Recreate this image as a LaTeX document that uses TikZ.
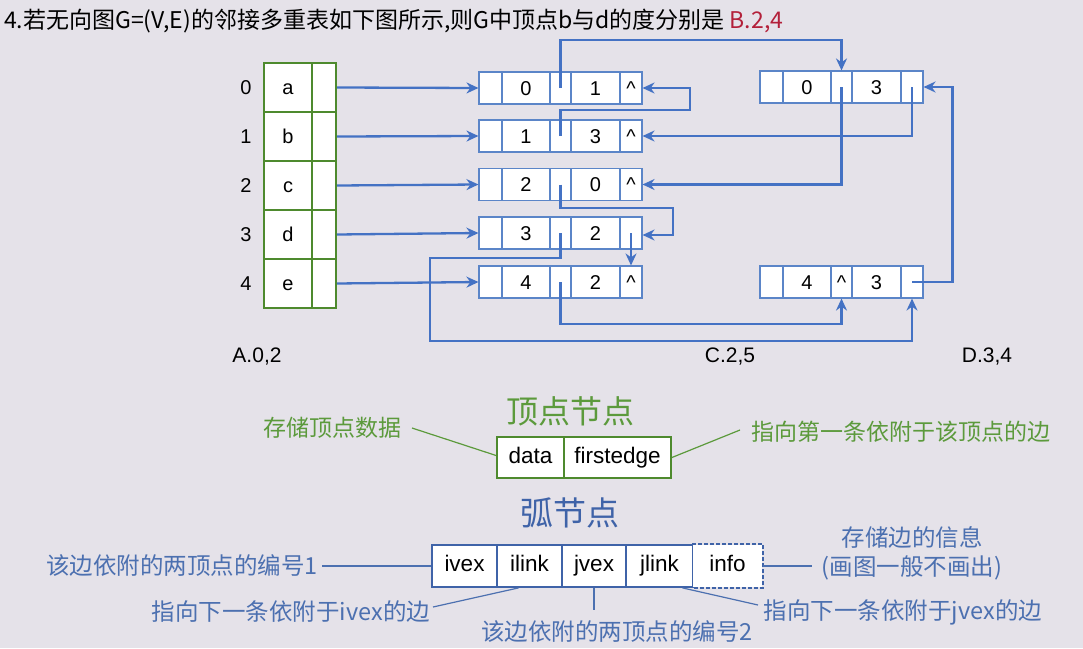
\documentclass[tikz,border=0pt]{standalone}
\usepackage{fontspec}
\setmainfont{Liberation Sans}
\newfontfamily\cjk{Noto Sans CJK SC}
\usetikzlibrary{arrows.meta}
\definecolor{bg}{HTML}{E5E2E9}
\definecolor{connblue}{HTML}{4472C4}
\definecolor{cellblue}{HTML}{5B85C8}
\definecolor{vgreen}{HTML}{4E8A2E}
\definecolor{tgreen}{HTML}{5C9A3C}
\definecolor{arcblue}{HTML}{3F63A8}
\definecolor{lblue}{HTML}{4C70B0}
\definecolor{titlered}{HTML}{B3203A}
\tikzset{
  cellbox/.style={draw=cellblue, fill=white, line width=1.1pt, inner sep=0pt, minimum height=32pt, font=\fontsize{20}{20}\selectfont, text height=14.3pt, text depth=0pt},
  vcellbox/.style={draw=vgreen, fill=white, line width=2pt, inner sep=0pt, minimum height=49pt, font=\fontsize{20}{20}\selectfont, text height=14.3pt, text depth=0pt},
  conn/.style={draw=connblue, line width=2.3pt, -{Stealth[length=12pt,width=11pt]}},
  idx/.style={font=\fontsize{20}{20}\selectfont},
  ans/.style={font=\fontsize{21}{21}\selectfont},
  gtext/.style={text=tgreen, font=\cjk\fontsize{23}{23}\selectfont},
  btext/.style={text=lblue, font=\cjk\fontsize{23.5}{23.5}\selectfont},
  gline/.style={draw=tgreen, line width=1.2pt},
  bline/.style={draw=lblue, line width=1.2pt},
  gcell/.style={draw=vgreen, fill=white, line width=1.8pt, inner sep=0pt, minimum height=41pt, font=\fontsize{22.5}{22.5}\selectfont, text height=16pt, text depth=4.5pt},
  acell/.style={draw=arcblue, fill=white, line width=1.8pt, inner sep=0pt, minimum height=42pt, font=\fontsize{22.5}{22.5}\selectfont, text height=16pt, text depth=4.5pt},
}
% edge node: #1 name, #2 left x, #3 centre y, #4..#7 texts of cells 2..5
\newcommand\EdgeNode[7]{%
  \node[cellbox, minimum width=23pt] (#1-1) at ({#2+11.5},#3) {};
  \node[cellbox, minimum width=48pt] (#1-2) at ({#2+47},#3) {#4};
  \node[cellbox, minimum width=21pt] (#1-3) at ({#2+81.5},#3) {#5};
  \node[cellbox, minimum width=49pt] (#1-4) at ({#2+116.5},#3) {#6};
  \node[cellbox, minimum width=22pt] (#1-5) at ({#2+152},#3) {#7};
}
\newcommand\VRow[4]{% #1 name, #2 centre y, #3 letter, #4 index
  \node[vcellbox, minimum width=48pt] (#1-1) at (288,#2) {#3};
  \node[vcellbox, minimum width=24pt] (#1-2) at (324,#2) {};
  \node[idx] (#1-i) at (246,#2) {#4};
}
\begin{document}
\begin{tikzpicture}[x=1pt,y=-1pt]
\fill[bg] (0,0) rectangle (1083,648);
\useasboundingbox (0,0) rectangle (1083,648);

% title
\node[anchor=west, inner sep=0pt, font=\cjk\fontsize{23}{23}\selectfont] (title) at (4,21)
  {4.若无向图G=(V,E)的邻接多重表如下图所示,则G中顶点b与d的度分别是 \textcolor{titlered}{B.2,4}};

% vertex table
\VRow{v0}{87.5}{a}{0}
\VRow{v1}{136.5}{b}{1}
\VRow{v2}{185.5}{c}{2}
\VRow{v3}{234.5}{d}{3}
\VRow{v4}{283.5}{e}{4}

% edge nodes
\EdgeNode{E0}{479}{88}{0}{}{1}{\textasciicircum}
\EdgeNode{E1}{479}{136}{1}{}{3}{\textasciicircum}
\EdgeNode{E2}{479}{184.5}{2}{}{0}{\textasciicircum}
\EdgeNode{E3}{479}{233}{3}{}{2}{}
\EdgeNode{E4}{479}{282}{4}{}{2}{\textasciicircum}
\EdgeNode{F0}{760}{87}{0}{}{3}{}
\EdgeNode{F1}{760}{282}{4}{\textasciicircum}{3}{}

% vertex -> first edge
\draw[conn] (v0-2.east) -- (E0-1.west);
\draw[conn] (v1-2.east) -- (E1-1.west);
\draw[conn] (v2-2.east) -- (E2-1.west);
\draw[conn] (v3-2.east) -- (E3-1.west);
\draw[conn] (v4-2.east) -- (E4-1.west);

% links
\coordinate (k1) at (690,110);
\coordinate (k6) at (673,208);
\coordinate (o1) at (430,258);
\coordinate (o2) at (430,341);
\draw[conn] (E0-3.center) -- ++(0,-48) -| (F0-3.north);
\draw[conn] (E1-3.center) |- (k1) |- (E0-5.east);
\draw[conn] (F0-3.center) |- (E2-5.east);
\draw[conn] (F0-5.center) |- (E1-5.east);
\draw[conn] (F1-5.center) -| ([xshift=29pt]F0-5.east) -- (F0-5.east);
\draw[conn] (E2-3.center) |- (k6) |- ([yshift=-2pt]E3-5.east);
\draw[conn] (E3-5.center) -- (E4-5.north);
\draw[conn] (E3-3.center) |- (o1) -- (o2) -| (F1-5.south);
\draw[conn] (E4-3.center) -- ++(0,42) -| (F1-3.south);

% answers
\node[ans] (ansA) at (257,357) {A.0,2};
\node[ans] (ansC) at (730,357) {C.2,5};
\node[ans] (ansD) at (987,357) {D.3,4};

% vertex node legend
\node[text=tgreen, font=\cjk\fontsize{32}{32}\selectfont] (vt) at (570,411) {顶点节点};
\node[gcell, minimum width=67pt] (vd) at (530.5,457.5) {data};
\node[gcell, minimum width=107pt] (vf) at (617.5,457.5) {firstedge};
\node[gtext, anchor=east, inner sep=0pt] (lv1) at (402,428) {存储顶点数据};
\node[gtext, anchor=west, inner sep=0pt] (lv2) at (751,432) {指向第一条依附于该顶点的边};
\coordinate (gv1) at (412,428);
\coordinate (gv2) at (740,430);
\draw[gline] (gv1) -- ([yshift=2pt]vd.west);
\draw[gline] (vf.east) -- (gv2);

% arc node legend
\node[text=arcblue, font=\cjk\fontsize{33}{33}\selectfont] (at) at (570,513) {弧节点};
\node[acell, minimum width=65pt] (ivex) at (464.5,566) {ivex};
\node[acell, minimum width=65pt] (ilink) at (529.5,566) {ilink};
\node[acell, minimum width=64pt] (jvex) at (594,566) {jvex};
\node[acell, minimum width=67pt] (jlink) at (659.5,566) {jlink};
\node[acell, draw=none, minimum width=69pt] (info) at (727.5,566) {info};
\draw[arcblue, line width=1.8pt, dash pattern=on 3.5pt off 2.5pt] (info.north west) -- (info.north east) -- (info.south east) -- (info.south west);

\node[btext, anchor=east, inner sep=0pt] (la1) at (318,566) {该边依附的两顶点的编号1};
\node[btext, inner sep=0pt] (la2) at (912,537) {存储边的信息};
\node[btext, inner sep=0pt] (la3) at (912,568) {(画图一般不画出)};
\node[btext, inner sep=0pt] (la4) at (291,612) {指向下一条依附于ivex的边};
\node[btext, inner sep=0pt] (la5) at (617,632) {该边依附的两顶点的编号2};
\node[btext, inner sep=0pt] (la6) at (903,612) {指向下一条依附于jvex的边};

\coordinate (b1) at (322,566);
\coordinate (b2) at (812,566);
\coordinate (b3) at (433,607);
\coordinate (b4) at (594,610);
\coordinate (b5) at (758,605);
\draw[bline] (b1) -- (ivex.west);
\draw[bline] (info.east) -- (b2);
\draw[bline] ([xshift=-11pt]ilink.south) -- (b3);
\draw[bline] (jvex.south) -- (b4);
\draw[bline] ([xshift=23pt]jlink.south) -- (b5);
\end{tikzpicture}
\end{document}
